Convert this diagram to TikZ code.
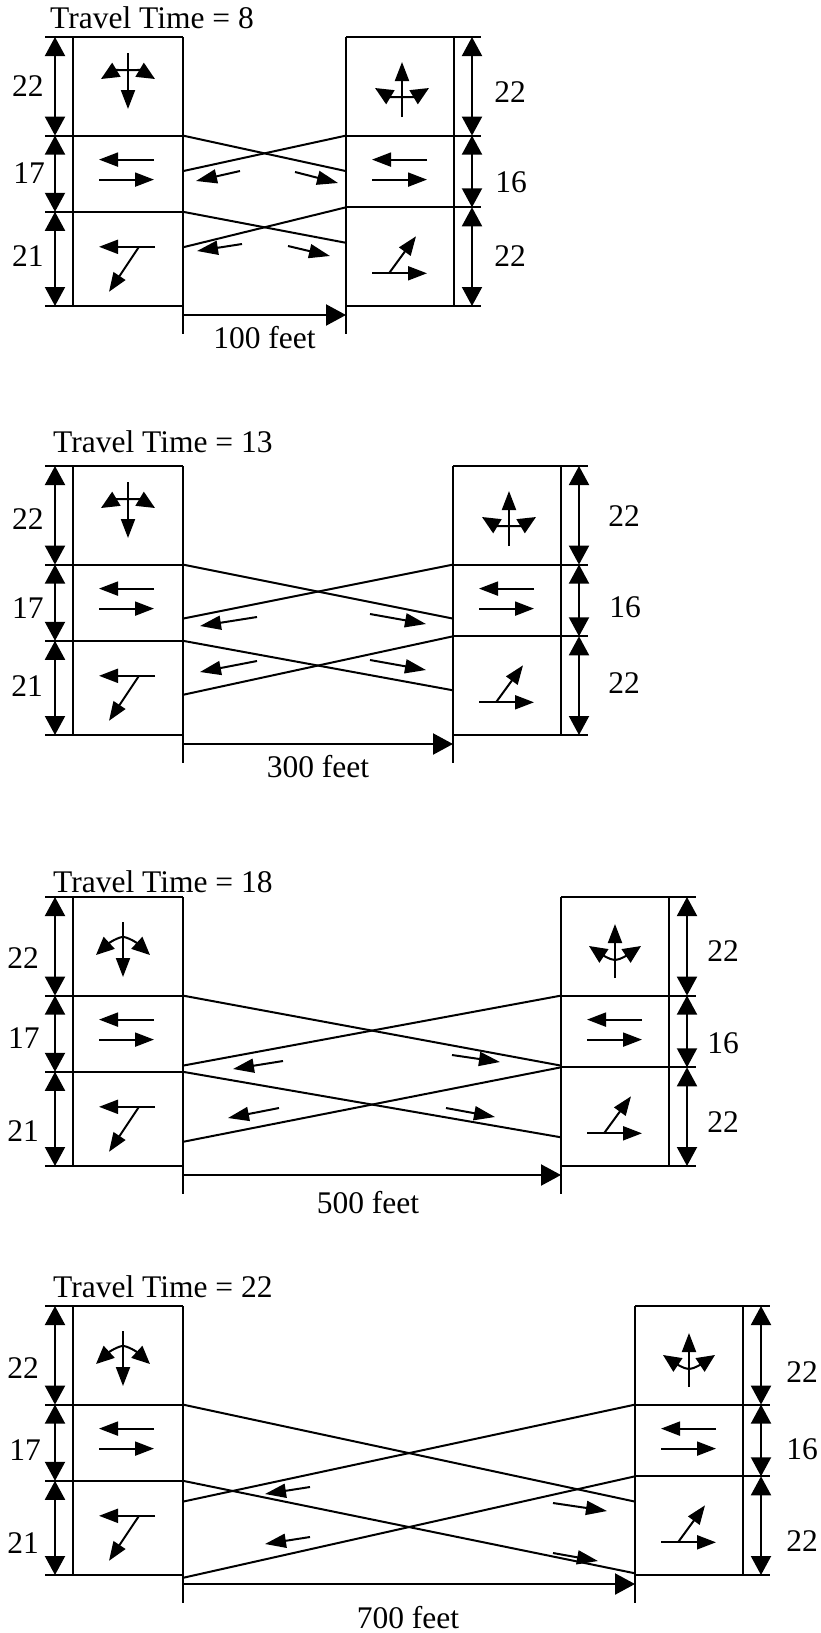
\documentclass[tikz,border=0pt]{standalone}
\usepackage{fontspec}
\setmainfont{Liberation Serif}
\newfontfamily\labelfont{Liberation Serif}
\usetikzlibrary{arrows.meta}

\tikzset{
  cellline/.style={line width=2.2pt},
  crossline/.style={line width=2pt},
  dimline/.style={line width=2pt,
    {Triangle[length=19pt,width=20pt]}-{Triangle[length=19pt,width=20pt]}},
  distline/.style={line width=2.2pt,-{Triangle[length=20pt,width=21pt]}},
  moveline/.style={line width=2pt,-{Triangle[length=19pt,width=14pt]}},
  movetwo/.style={line width=2pt,
    {Triangle[length=18pt,width=16pt]}-{Triangle[length=18pt,width=16pt]}},
  flowline/.style={line width=2pt,-{Triangle[length=21pt,width=14pt]}},
  lbl/.style={inner sep=0pt},
  sbarch/.pic={
    \draw[moveline] (55,16) -- (55,72);
    \draw[movetwo] (28,42) .. controls (43,33) and (67,33) .. (82,42);
  },
  sbfork/.pic={
    \draw[moveline] (50,25) -- (50,80);
    \draw[movetwo] (23,58) .. controls (36,46) and (45,40) .. (50,40)
      .. controls (55,40) and (64,46) .. (77,58);
  },
  nbarch/.pic={
    \draw[moveline] (56,80) -- (56,25);
    \draw[movetwo] (29,51) .. controls (44,60) and (68,60) .. (83,51);
  },
  nbfork/.pic={
    \draw[moveline] (54,81) -- (54,27);
    \draw[movetwo] (28,49) .. controls (40,57) and (49,63) .. (54,63)
      .. controls (59,63) and (68,57) .. (80,49);
  },
  ewpair/.pic={
    \draw[moveline] (81,24) -- (26,24);
    \draw[moveline] (26,44) -- (81,44);
  },
  ltturn/.pic={
    \draw[moveline] (82,35) -- (26,35);
    \draw[moveline] (66,35) -- (36,80);
  },
  rtturn/.pic={
    \draw[moveline] (26,66) -- (81,66);
    \draw[moveline] (43,66) -- (70,29);
  }
}

% #1 name, #2 top, #3 left edge of right box, #4 offset, #5 arch or fork
\newcommand{\phasepanel}[5]{%
  \begin{scope}[shift={(0,#2)}]
    \coordinate (#1l1) at (183,98.6);
    \coordinate (#1l2) at (183,174.8);
    \coordinate (#1l1d) at (183,98.6+#4);
    \coordinate (#1l2d) at (183,174.8+#4);
    \coordinate (#1r1) at (#3,98.6);
    \coordinate (#1r2) at (#3,170.3);
    \coordinate (#1r1d) at (#3,98.6+#4);
    \coordinate (#1r2d) at (#3,170.3+#4);
    \coordinate (#1lb) at (183,278);
    \coordinate (#1rb) at (#3,278);

    \draw[cellline] (45,0) -- (183,0) (45,98.6) -- (183,98.6)
      (45,174.8) -- (183,174.8) (45,269) -- (183,269)
      (73,0) -- (73,269) (183,0) -- (183,297);
    \draw[dimline] (55,0) -- (55,98.6);
    \draw[dimline] (55,98.6) -- (55,174.8);
    \draw[dimline] (55,174.8) -- (55,269);

    \draw[cellline] (#3,0) -- (#3+135,0) (#3,98.6) -- (#3+135,98.6)
      (#3,170.3) -- (#3+135,170.3) (#3,269) -- (#3+135,269)
      (#3,0) -- (#3,297) (#3+108,0) -- (#3+108,269);
    \draw[dimline] (#3+126,0) -- (#3+126,98.6);
    \draw[dimline] (#3+126,98.6) -- (#3+126,170.3);
    \draw[dimline] (#3+126,170.3) -- (#3+126,269);

    \draw[crossline] (#1l1) -- (#1r1d);
    \draw[crossline] (#1l1d) -- (#1r1);
    \draw[crossline] (#1l2) -- (#1r2d);
    \draw[crossline] (#1l2d) -- (#1r2);
    \draw[distline] (#1lb) -- (#1rb);

    \pic at (73,0) {sb#5};
    \pic at (#3,0) {nb#5};
    \pic at (73,98.6) {ewpair};
    \pic at (#3,98.6) {ewpair};
    \pic at (73,174.8) {ltturn};
    \pic at (#3,170.3) {rtturn};
  \end{scope}}

\begin{document}
\begin{tikzpicture}[x=1pt,y=-1pt,font=\labelfont\fontsize{31.5}{36}\selectfont]
  \useasboundingbox (0,0) rectangle (821,1633);

  \phasepanel{a}{37}{346}{35.5}{arch}
  \node[lbl,anchor=base west] (atitle) at (50,28) {Travel Time = 8};
  \node[lbl] (al1) at (28,86) {22};
  \node[lbl] (al2) at (29,173) {17};
  \node[lbl] (al3) at (28,256) {21};
  \node[lbl] (ar1) at (510,92) {22};
  \node[lbl] (ar2) at (511,182) {16};
  \node[lbl] (ar3) at (510,256) {22};
  \node[lbl,anchor=base] (adist) at (264.5,348) {100 feet};
  \draw[flowline] (240,171) -- (196,181);
  \draw[flowline] (242,244) -- (197,251);
  \draw[flowline] (295,172) -- (338,183);
  \draw[flowline] (288,246) -- (330,256);

  \phasepanel{b}{466}{453}{54}{arch}
  \node[lbl,anchor=base west] (btitle) at (53,452) {Travel Time = 13};
  \node[lbl] (bl1) at (28,519) {22};
  \node[lbl] (bl2) at (28,608) {17};
  \node[lbl] (bl3) at (27,686) {21};
  \node[lbl] (br1) at (624,516) {22};
  \node[lbl] (br2) at (625,607) {16};
  \node[lbl] (br3) at (624,683) {22};
  \node[lbl,anchor=base] (bdist) at (318,777) {300 feet};
  \draw[flowline] (257,617) -- (200,626);
  \draw[flowline] (257,661) -- (200,672);
  \draw[flowline] (370,614) -- (426,624);
  \draw[flowline] (370,660) -- (426,670);

  \phasepanel{c}{897}{561}{70}{fork}
  \node[lbl,anchor=base west] (ctitle) at (53,892) {Travel Time = 18};
  \node[lbl] (cl1) at (23,958) {22};
  \node[lbl] (cl2) at (24,1038) {17};
  \node[lbl] (cl3) at (23,1131) {21};
  \node[lbl] (cr1) at (723,951) {22};
  \node[lbl] (cr2) at (723,1043) {16};
  \node[lbl] (cr3) at (723,1122) {22};
  \node[lbl,anchor=base] (cdist) at (368,1213) {500 feet};
  \draw[flowline] (283,1061) -- (233,1069);
  \draw[flowline] (279,1108) -- (228,1118);
  \draw[flowline] (452,1055) -- (500,1062);
  \draw[flowline] (446,1108) -- (495,1117);

  \phasepanel{d}{1306}{635}{97}{fork}
  \node[lbl,anchor=base west] (dtitle) at (53,1297) {Travel Time = 22};
  \node[lbl] (dl1) at (23,1368) {22};
  \node[lbl] (dl2) at (25,1450) {17};
  \node[lbl] (dl3) at (23,1543) {21};
  \node[lbl] (dr1) at (802,1372) {22};
  \node[lbl] (dr2) at (802,1449) {16};
  \node[lbl] (dr3) at (802,1541) {22};
  \node[lbl,anchor=base] (ddist) at (408,1628) {700 feet};
  \draw[flowline] (310,1487) -- (265,1494);
  \draw[flowline] (310,1537) -- (265,1544);
  \draw[flowline] (553,1503) -- (607,1511);
  \draw[flowline] (553,1553) -- (598,1561);
\end{tikzpicture}
\end{document}
